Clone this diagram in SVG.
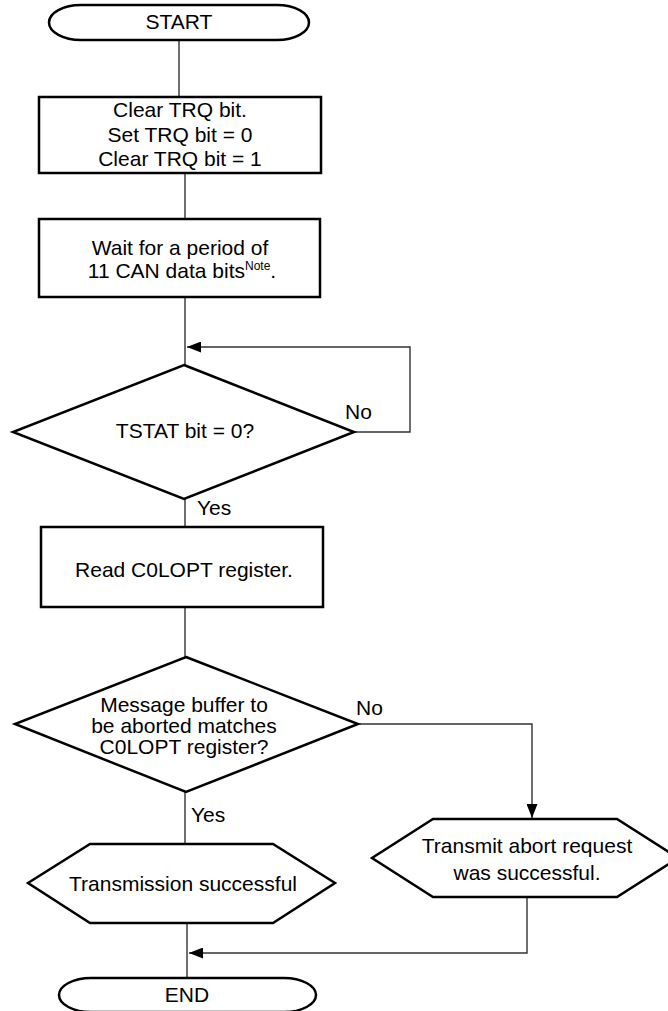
<svg xmlns="http://www.w3.org/2000/svg" width="668" height="1011" viewBox="0 0 668 1011">
<defs>
<style>
.shape{fill:#fff;stroke:#000;stroke-width:2.5;stroke-linejoin:miter}
.conn{fill:none;stroke:#333;stroke-width:1.4}
text{font-family:"Liberation Sans",Arial,sans-serif;font-size:21px;fill:#000}
.c{text-anchor:middle}
</style>
<marker id="arr" viewBox="0 0 14 11" refX="14" refY="5.5" markerWidth="14" markerHeight="11" markerUnits="userSpaceOnUse" orient="auto">
<path d="M0,0 L14,5.5 L0,11 Z" fill="#000"/>
</marker>
</defs>
<rect width="668" height="1011" fill="#fff"/>
<g id="connectors">
<line class="conn" x1="179" y1="40" x2="179" y2="97"/>
<line class="conn" x1="185" y1="173" x2="185" y2="219"/>
<line class="conn" x1="185" y1="297" x2="185" y2="365"/>
<polyline class="conn" points="354,432 410,432 410,347 187,347" marker-end="url(#arr)"/>
<line class="conn" x1="185" y1="499" x2="185" y2="527"/>
<line class="conn" x1="185" y1="607" x2="185" y2="657"/>
<polyline class="conn" points="358,724 532,724 532,818" marker-end="url(#arr)"/>
<line class="conn" x1="185" y1="792" x2="185" y2="844"/>
<line class="conn" x1="187" y1="923" x2="187" y2="978"/>
<polyline class="conn" points="527,897 527,953 189,953" marker-end="url(#arr)"/>
</g>
<g id="start">
<rect class="shape" x="49" y="5" width="260" height="35" rx="32" ry="17.5"/>
<text class="c" x="179" y="29">START</text>
</g>
<g id="clear-trq">
<rect class="shape" x="39" y="97" width="282" height="76"/>
<text class="c" x="180" y="117">Clear TRQ bit.</text>
<text class="c" x="180" y="142">Set TRQ bit = 0</text>
<text class="c" x="180" y="166">Clear TRQ bit = 1</text>
</g>
<g id="wait">
<rect class="shape" x="39" y="219" width="281" height="78"/>
<text class="c" x="180" y="255">Wait for a period of</text>
<text class="c" x="182" y="278">11 CAN data bits<tspan font-size="12" dy="-8">Note</tspan><tspan dy="8">.</tspan></text>
</g>
<g id="tstat">
<polygon class="shape" points="184,365 354,432 184,499 13,432"/>
<text class="c" x="185" y="438">TSTAT bit = 0?</text>
<text x="345" y="419">No</text>
<text x="197" y="515">Yes</text>
</g>
<g id="read-c0lopt">
<rect class="shape" x="41" y="527" width="282" height="80"/>
<text class="c" x="184" y="577">Read C0LOPT register.</text>
</g>
<g id="match">
<polygon class="shape" points="186,657 358,724 186,792 15,724"/>
<text class="c" x="184" y="712">Message buffer to</text>
<text class="c" x="184" y="733">be aborted matches</text>
<text class="c" x="184" y="754">C0LOPT register?</text>
<text x="356" y="715">No</text>
<text x="191" y="822">Yes</text>
</g>
<g id="tx-success">
<polygon class="shape" points="90,844 273,844 335,883 273,923 90,923 28,883"/>
<text class="c" x="183" y="891">Transmission successful</text>
</g>
<g id="abort-success">
<polygon class="shape" points="433,819 617,819 678,858 617,897 433,897 372,858"/>
<text class="c" x="527" y="853">Transmit abort request</text>
<text class="c" x="527" y="880">was successful.</text>
</g>
<g id="end">
<rect class="shape" x="59" y="978" width="257" height="34" rx="32" ry="17"/>
<text class="c" x="187" y="1002">END</text>
</g>
</svg>
